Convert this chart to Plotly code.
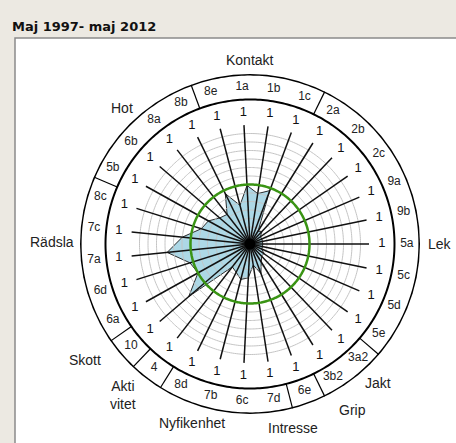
import plotly.graph_objects as go
import numpy as np

# ---- data ----
items = ["1a", "1b", "1c", "2a", "2b", "2c", "9a", "9b", "5a", "5c", "5d", "5e",
         "3a2", "3b2", "6e", "7d", "6c", "7b", "8d", "4", "10", "6a", "6d", "7a",
         "7c", "8c", "5b", "6b", "8a", "8b", "8e"]
values = [6.9, 6.0, 6.7, 1.8, 2.0, 1.5, 1.5, 1.5, 1.5, 1.5, 1.5, 2.0,
          2.0, 2.5, 3.7, 2.5, 4.0, 4.3, 3.7, 3.4, 9.5, 7.0, 7.4, 9.8,
          8.0, 6.0, 5.6, 4.7, 4.4, 6.6, 4.7]
counts = ["1", "1", "1", "1", "1", "1", "1", "1", "1", "1", "1", "1",
          "1", "1", "1", "1", "1", "1", "1", "1", "1", "1", "1", "1",
          "1", "1", "1", "1", "1", "1", "1"]
group_names = ["Kontakt", "Lek", "Jakt", "Grip", "Intresse", "Nyfikenhet",
               "Akti<br>vitet", "Skott", "Rädsla", "Hot"]
# first item after each divider line in the label band
group_starts = ["2a", "3a2", "6e", "7d", "4", "10", "6a", "5b", "8e"]
reference_level = 7

# ---- geometry / style ----
N = len(items)
step = 360.0 / N
theta = [i * step for i in range(N)]
grid_levels = list(range(1, 14))
spoke_len = 14
ring_in, ring_out = 17, 20
count_r, code_r = 15.5, 18.45
rot_off = 8 * step - 90  # item 1a sits this far left of top
# group label placement: (angle from top clockwise, distance in px)
group_pos = [(0, 184), (90, 190), (137.4, 189), (148.4, 195), (166.8, 189),
             (198, 188), (220, 197), (235, 202), (270.6, 198), (316.7, 187)]

W, H = 456, 443
cx, cy, R = 250, 244, 170

fig = go.Figure()
circ = np.linspace(0, 360, 361)

fig.add_trace(go.Scatterpolar(r=values + [values[0]], theta=theta + [theta[0]],
                              mode="lines", fill="toself", fillcolor="#ADD8E6",
                              line=dict(color="#2b2b2b", width=1)))
gr, gt = [], []
for lv in grid_levels:
    gr += [lv] * len(circ) + [None]
    gt += list(circ) + [None]
fig.add_trace(go.Scatterpolar(r=gr, theta=gt, mode="lines",
                              line=dict(color="#c4c4c4", width=1)))
sr, st = [], []
for t in theta:
    sr += [0, spoke_len, None]
    st += [t, t, None]
fig.add_trace(go.Scatterpolar(r=sr, theta=st, mode="lines",
                              line=dict(color="#111111", width=1.5)))
fig.add_trace(go.Scatterpolar(r=[reference_level] * len(circ), theta=circ, mode="lines",
                              line=dict(color="#3a9414", width=2.5)))
fig.add_trace(go.Scatterpolar(r=[ring_in] * len(circ), theta=circ, mode="lines",
                              line=dict(color="black", width=2)))
fig.add_trace(go.Scatterpolar(r=[ring_out] * len(circ), theta=circ, mode="lines",
                              line=dict(color="black", width=3.2)))
dr, dt = [], []
for g in group_starts:
    t = theta[items.index(g)] - step / 2
    dr += [ring_in, ring_out, None]
    dt += [t, t, None]
fig.add_trace(go.Scatterpolar(r=dr, theta=dt, mode="lines",
                              line=dict(color="black", width=1.2)))
fig.add_trace(go.Scatterpolar(r=[0], theta=[0], mode="markers",
                              marker=dict(color="black", size=11)))
fig.add_trace(go.Scatterpolar(r=[count_r] * N, theta=theta, mode="text", text=counts,
                              textfont=dict(family="Liberation Sans, Arial", size=13, color="#111"),
                              cliponaxis=False))
fig.add_trace(go.Scatterpolar(r=[code_r] * N, theta=theta, mode="text", text=items,
                              textfont=dict(family="Liberation Sans, Arial", size=12, color="#222"),
                              cliponaxis=False))

annotations = [dict(text="<b>Maj 1997- maj 2012</b>", xref="paper", yref="paper",
                    x=10 / W, y=(H - 26) / H, xanchor="left", yanchor="middle",
                    showarrow=False, font=dict(family="DejaVu Sans", size=13, color="#111"))]
for name, (ang, dist) in zip(group_names, group_pos):
    a = np.radians(ang)
    px = cx + dist * np.sin(a)
    py = cy - dist * np.cos(a)
    annotations.append(dict(text=name, xref="paper", yref="paper", x=px / W, y=(H - py) / H,
                            xanchor="center", yanchor="middle", showarrow=False,
                            font=dict(family="Liberation Sans, Arial", size=14, color="#222")))

fig.update_layout(
    width=W, height=H, margin=dict(l=0, r=0, t=0, b=0),
    paper_bgcolor="#ECE9E2", plot_bgcolor="white", showlegend=False,
    polar=dict(
        domain=dict(x=[(cx - R) / W, (cx + R) / W], y=[(H - cy - R) / H, (H - cy + R) / H]),
        bgcolor="white",
        radialaxis=dict(visible=False, range=[0, ring_out]),
        angularaxis=dict(visible=False, type="linear", thetaunit="degrees",
                         rotation=90 + rot_off, direction="clockwise"),
    ),
    shapes=[dict(type="rect", xref="paper", yref="paper", x0=15 / W, x1=1.02,
                 y0=-0.02, y1=(H - 38) / H, fillcolor="white",
                 line=dict(color="#8a8a8a", width=1.5), layer="below")],
    annotations=annotations,
)
fig.write_html("out.html", config={"displayModeBar": False},
               post_script="document.body.style.margin='0';")
